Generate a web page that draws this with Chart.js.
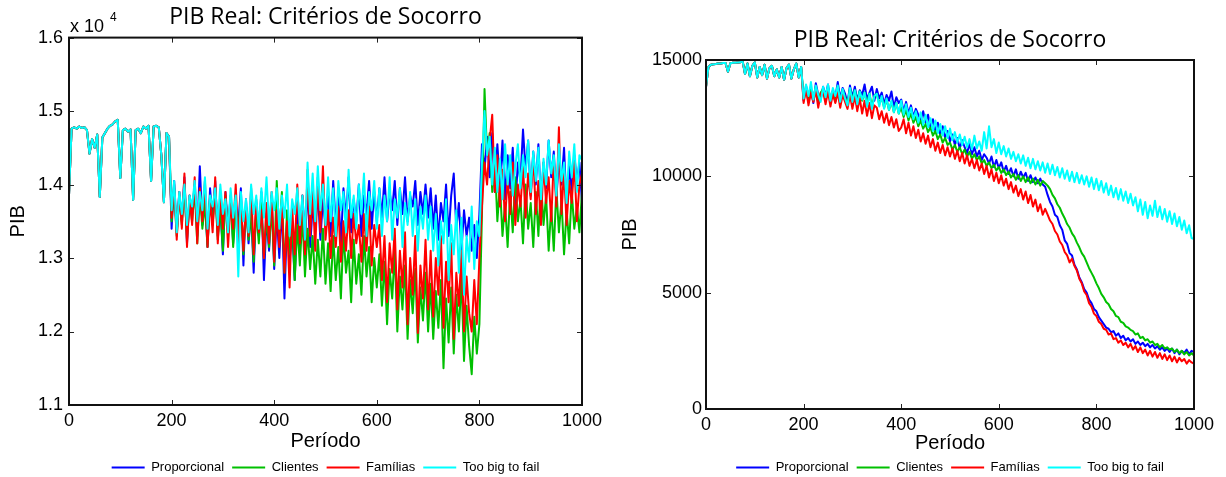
<!DOCTYPE html>
<html lang="pt">
<head>
    <meta charset="UTF-8">
    <title>PIB Real: Critérios de Socorro</title>
    <script src="https://cdn.jsdelivr.net/npm/chart.js"></script>
    <style>
        body {
            margin: 0;
            background: #fff;
            overflow: hidden;
        }
        .panel {
            position: absolute;
            top: 0;
            width: 613px;
            height: 477px;
        }
    </style>
</head>
<body>
    <div class="panel" style="left:0"><canvas id="leftChart" width="613" height="477"></canvas></div>
    <div class="panel" style="left:613px"><canvas id="rightChart" width="613" height="477"></canvas></div>

    <script>
        // Left panel, one value every 5 periods. Periods 0-195 are the same for every rule.
        const leftShared = [
            13850, 14760, 14780, 14760, 14790, 14770, 14780, 14740, 14420, 14620,
            14500, 14680, 13830, 14640, 14700, 14760, 14800, 14820, 14860, 14880,
            14090, 14740, 14760, 14720, 14750, 13790, 14740, 14760, 14700, 14790,
            14760, 14800, 14050, 14790, 14800, 14780, 14400, 13760, 14700, 14650
        ];
        // periods 200-1000
        const leftProporcional = [
            13400, 14050, 13350, 13900, 13500, 14100, 13200, 13850, 13600, 14000,
            13300, 14250, 13450, 13800, 13150, 13950, 13500, 14050, 13300, 13700,
            13050, 13900, 13400, 13850, 13200, 13750, 13450, 13950, 12900, 13800,
            13200, 13650, 12800, 13750, 13300, 13900, 12700, 13550, 13100, 13850,
            12850, 13600, 13000, 13750, 12450, 13500, 12950, 13400, 12700, 13650,
            13100, 13850, 13300, 13950, 13150, 13700, 13400, 13900, 13250, 13800,
            13450, 13900, 13300, 14050, 13450, 13850, 13200, 13950, 13550, 14100,
            13350, 13800, 13500, 14000, 13300, 13850, 13600, 14050, 13400, 13900,
            13500, 13950, 13550, 14100, 13500, 13900, 13650, 14050, 13450, 13950,
            13600, 14100, 13500, 13850, 13700, 14050, 13450, 13900, 13600, 14000,
            13550, 13950, 13400, 13850, 13250, 13750, 13500, 14000, 13300, 13850,
            14150, 13400, 13750, 13100, 13650, 13300, 13550, 13100, 13450, 13000,
            13600, 14550, 14200, 14650, 14100, 14700, 13900, 14550, 14000, 14600,
            13800, 14400, 13950, 14500, 13700, 14300, 14050, 14750, 14200, 14600,
            13850, 14450, 14000, 14550, 13750, 14300, 13950, 14600, 14100, 14450,
            13800, 14350, 14000, 14500, 13700, 14250, 13900, 14400, 14050, 14300,
            13750
        ];
        const leftClientes = [
            13500, 13950, 13300, 13850, 13450, 14000, 13250, 13800, 13500, 13950,
            13200, 13900, 13400, 13750, 13150, 13850, 13450, 13950, 13250, 13700,
            13100, 13850, 13350, 13800, 13150, 13700, 13400, 13800, 13050, 13700,
            13250, 13600, 12950, 13650, 13200, 13750, 13000, 13550, 13150, 13700,
            12900, 14050, 13300, 13900, 12800, 13650, 13050, 13500, 12700, 13450,
            12900, 13600, 12750, 13400, 12850, 13300, 12650, 13250, 12750, 13400,
            12650, 13200, 12550, 13300, 12700, 13150, 12450, 13350, 12800, 13100,
            12400, 13250, 12650, 13050, 12500, 13300, 12750, 13150, 12400, 13000,
            12600, 13050, 12350, 12950, 12100, 12850, 12450, 13100, 12000, 12750,
            12300, 12900, 11900, 12700, 12250, 12850, 11850, 12600, 12150, 12800,
            12000, 12650, 11900, 12550, 12050, 12700, 11500, 12450, 11850, 12600,
            11700, 12500, 12000, 12750, 11600, 12350, 11800, 11420, 12200, 11700,
            12100, 13600, 15300, 14400, 14700, 13900, 14350, 13500, 14000, 13300,
            13750, 13150, 13900, 13350, 14100, 13500, 13800, 13200, 14000, 13400,
            13750, 13150, 13900, 13300, 14050, 13450, 13850, 13100, 13700, 13100,
            13950, 13350, 13800, 13050, 13650, 13200, 13900, 13400, 13700, 13350,
            13900
        ];
        const leftFamilias = [
            13550, 14000, 13250, 13900, 13400, 14150, 13150, 13850, 13450, 14100,
            13200, 13950, 13500, 14050, 13150, 13800, 13350, 14100, 13200, 13850,
            13400, 13900, 13150, 13750, 13400, 14000, 13200, 13850, 13100, 13700,
            13300, 13950, 13050, 13800, 13350, 13650, 13000, 13750, 13200, 13900,
            12950, 13650, 13150, 13800, 12800, 13500, 12600, 13700, 13050, 14000,
            13200, 13850, 13050, 14200, 13300, 13950, 13100, 14100, 13350, 14250,
            13250, 13650, 13000, 13550, 13150, 13700, 12950, 13500, 13100, 13650,
            13000, 13600, 13200, 13450, 12950, 13600, 13100, 13700, 12900, 13450,
            13150, 13450, 12700, 13300, 12400, 13200, 12800, 13400, 12300, 13100,
            12600, 13350, 12100, 13000, 12500, 13300, 11980, 12900, 12450, 13250,
            12300, 13100, 12200, 13000, 12500, 13300, 12050, 12950, 12400, 13200,
            11900, 12800, 12350, 13100, 12000, 12750, 12250, 12000, 12700, 12100,
            13000, 13700, 14300, 14000, 14600, 14950, 13900, 14400, 13700, 14200,
            13500, 14100, 13600, 14300, 13450, 14000, 13700, 14250, 13550, 14150,
            13800, 14400, 13600, 14050, 13450, 14300, 13750, 14100, 13500, 14350,
            13700, 14780, 13600, 14200, 13450, 14050, 13750, 14300, 13500, 14000,
            14150
        ];
        const leftTooBig = [
            13650, 14050, 13350, 13900, 13600, 14000, 13450, 13850, 13700, 14050,
            13500, 13900, 13650, 14100, 13400, 13850, 13700, 13950, 13450, 14000,
            13600, 13800, 13350, 13950, 13550, 13850, 12750, 13900, 13500, 13800,
            13350, 14000, 13600, 13850, 13400, 13950, 13550, 14100, 13450, 13900,
            13650, 13950, 13400, 13850, 13550, 14000, 13300, 13800, 13600, 13950,
            13450, 13850, 13250, 14300, 13600, 14150, 13500, 14250, 13650, 14000,
            13450, 14100, 13500, 13950, 13300, 14050, 13650, 13900, 13350, 14200,
            13550, 13850, 13400, 14000, 13600, 14150, 13300, 13900, 13650, 14050,
            13400, 13950, 13300, 13850, 13500, 14100, 13250, 13800, 13550, 13950,
            13150, 13750, 13450, 13900, 13300, 13800, 13100, 13700, 13400, 13850,
            13250, 13700, 13100, 13600, 12900, 13500, 13200, 13800, 12700, 13450,
            13050, 13650, 12800, 13550, 12500, 13300, 12950, 13700, 12850, 13500,
            13300, 14300, 15000, 14400, 14650, 14000, 14500, 13900, 14350, 13800,
            14550, 14000, 14400, 13850, 14250, 14550, 13950, 14400, 14100, 14600,
            13900, 14450, 14050, 14500, 13800, 14350, 14000, 14600, 14150, 14400,
            13850, 14550, 14050, 14300, 13750, 14450, 14100, 14550, 13900, 14400,
            14330
        ];

        // Right panel, one value every 5 periods. Periods 0-195 are shared.
        const rightShared = [
            13850, 14700, 14800, 14820, 14830, 14850, 14850, 14870, 14870, 14500,
            14860, 14880, 14880, 14890, 14900, 14950, 14400, 14850, 14300, 14750,
            14900, 14250, 14700, 14350, 14800, 14200, 14650, 14750, 14300, 14600,
            14250, 14700, 14150, 14650, 14800, 14200, 14600, 14850, 14250, 14700
        ];
        // periods 200-1000
        const rightProporcional = [
            13250, 13900, 13400, 13750, 13150, 14000, 13500, 13300, 13850, 13450,
            13950, 13200, 13700, 13400, 14050, 13350, 13800, 13550, 13150, 13900,
            13400, 13850, 13250, 13700, 13500, 13950, 13300, 13600, 13850, 13250,
            13750, 13350, 13600, 13100, 13500, 13250, 13650, 12950, 13400, 13150,
            13300, 12800, 13200, 12700, 13050, 12550, 12900, 12650, 12400, 12800,
            12300, 12650, 12100, 12450, 11950, 12300, 11800, 12150, 11650, 11950,
            11500, 11800, 11350, 11650, 11200, 11550, 11250, 11000, 11400, 10950,
            11250, 10850, 11100, 10700, 10950, 10800, 10550, 10850, 10400, 10700,
            10350, 10600, 10200, 10450, 10100, 10350, 10000, 10300, 9900, 10200,
            9950, 10150, 9800, 10050, 9750, 9950, 9700, 9900, 9650, 9550,
            9200, 8900, 8700, 8350, 8250, 7900, 7700, 7250, 7100, 6700,
            6600, 6200, 6000, 5650, 5450, 5150, 5000, 4700, 4550, 4300,
            4200, 3950, 3800, 3650, 3500, 3450, 3300, 3350, 3150, 3250,
            3050, 3150, 2950, 3050, 2900, 3000, 2800, 2900, 2750, 2850,
            2700, 2800, 2650, 2750, 2600, 2700, 2550, 2650, 2500, 2600,
            2450, 2600, 2400, 2550, 2350, 2500, 2400, 2550, 2350, 2500,
            2450
        ];
        const rightClientes = [
            13350, 13800, 13200, 13700, 13300, 13850, 13150, 13600, 13750, 13250,
            13800, 13300, 13650, 13200, 13850, 13250, 13700, 13400, 13100, 13750,
            13300, 13700, 13150, 13650, 13250, 13600, 13100, 13550, 13000, 13450,
            13550, 13100, 13400, 12950, 13300, 12850, 13200, 12750, 13150, 12700,
            12950, 12550, 12850, 12400, 12700, 12300, 12550, 12150, 12400, 12050,
            12250, 11900, 12100, 11750, 11950, 11600, 11800, 11450, 11650, 11350,
            11450, 11150, 11350, 11050, 11250, 10950, 11150, 10850, 11050, 10750,
            10950, 10700, 10850, 10550, 10700, 10450, 10600, 10350, 10500, 10250,
            10400, 10150, 10300, 10050, 10200, 9950, 10100, 9850, 10050, 9800,
            10000, 9750, 9950, 9700, 9900, 9650, 9850, 9600, 9800, 9700,
            9600, 9450, 9200, 9050, 8800, 8650, 8400, 8200, 7950, 7800,
            7550, 7400, 7150, 6950, 6700, 6550, 6300, 6050, 5850, 5650,
            5400, 5200, 4950, 4800, 4600, 4500, 4300, 4200, 4000, 3950,
            3750, 3700, 3550, 3500, 3400, 3350, 3200, 3250, 3050, 3100,
            2950, 3000, 2850, 2900, 2750, 2800, 2650, 2750, 2600, 2650,
            2550, 2600, 2450, 2550, 2400, 2500, 2350, 2450, 2300, 2400,
            2300
        ];
        const rightFamilias = [
            13150, 13750, 13050, 13600, 13200, 13700, 12950, 13550, 13650, 13100,
            13650, 13000, 13550, 13150, 13600, 12950, 13500, 13200, 12900, 13500,
            12900, 13450, 12800, 13350, 12700, 13250, 12600, 13150, 12500, 13050,
            12950, 12450, 12800, 12300, 12700, 12200, 12550, 12100, 12450, 11950,
            12100, 12450, 11850, 12300, 11750, 12150, 11650, 12000, 11500, 11850,
            11400, 11750, 11250, 11600, 11100, 11450, 11000, 11350, 10900, 11250,
            10850, 11200, 10750, 11100, 10650, 11000, 10550, 10900, 10450, 10750,
            10350, 10700, 10250, 10550, 10100, 10450, 9950, 10300, 9800, 10150,
            9700, 10050, 9600, 9900, 9450, 9750, 9300, 9600, 9150, 9450,
            9000, 9350, 8850, 9200, 8700, 9000, 8500, 8800, 8350, 8600,
            8350, 8100, 7950, 7650, 7500, 7200, 7050, 6750, 6600, 6300,
            6450, 6150, 5950, 5600, 5400, 5050, 4900, 4550, 4400, 4100,
            4000, 3750, 3650, 3450, 3400, 3200, 3250, 3000, 3050, 2850,
            2950, 2750, 2850, 2650, 2800, 2550, 2700, 2450, 2650, 2400,
            2550, 2300, 2500, 2250, 2450, 2200, 2400, 2150, 2350, 2100,
            2300, 2050, 2250, 2000, 2200, 2050, 2150, 1950, 2100, 2000,
            1950
        ];
        const rightTooBig = [
            13350, 13950, 13450, 14050, 13300, 13900, 13500, 13200, 13850, 13400,
            13950, 13250, 13800, 13450, 13900, 13200, 13750, 13350, 13050, 13800,
            13200, 13700, 13100, 13650, 13300, 13600, 13000, 13550, 12900, 13450,
            13550, 13000, 13450, 12900, 13350, 12850, 13250, 12750, 13150, 12700,
            13250, 12650, 13100, 12550, 12950, 12450, 12800, 12300, 12750, 12200,
            12650, 12100, 12500, 11950, 12400, 11850, 12250, 11750, 12150, 11650,
            12050, 11550, 11900, 11450, 11800, 11350, 11700, 11250, 11600, 11150,
            11750, 11200, 11500, 11100, 11900, 11200, 12150, 11250, 11600, 11000,
            11450, 10950, 11300, 10850, 11200, 10750, 11050, 10650, 10950, 10550,
            10900, 10450, 10800, 10350, 10750, 10300, 10650, 10250, 10600, 10150,
            10550, 10100, 10500, 10050, 10400, 9950, 10350, 9900, 10250, 9800,
            10200, 9750, 10150, 9700, 10050, 9650, 10000, 9550, 9950, 9450,
            9900, 9400, 9800, 9300, 9700, 9200, 9600, 9100, 9500, 9000,
            9450, 8950, 9350, 8850, 9250, 8750, 9100, 8500, 9000, 8350,
            8900, 8200, 8750, 8300, 8950, 8250, 8700, 8150, 8600, 8050,
            8500, 7950, 8400, 7850, 8250, 7700, 8100, 7550, 7900, 7350,
            7300
        ];

        const seriesNames = ['Proporcional', 'Clientes', 'Famílias', 'Too big to fail'];
        const seriesColors = ['#0000ff', '#00c000', '#ff0000', '#00ffff'];
        const periodTicks = [0, 200, 400, 600, 800, 1000];

        const leftSeries = [leftProporcional, leftClientes, leftFamilias, leftTooBig].map(s => leftShared.concat(s));
        const rightSeries = [rightProporcional, rightClientes, rightFamilias, rightTooBig].map(s => rightShared.concat(s));

        // draws the box round the plot and the inward tick marks on all four sides
        const frameAndTicks = {
            id: 'frameAndTicks',
            afterDatasetsDraw(chart) {
                const {ctx, chartArea: a, scales: {x, y}} = chart;
                ctx.save();
                ctx.strokeStyle = '#222';
                ctx.lineWidth = 1;
                ctx.beginPath();
                x.ticks.forEach(t => {
                    const px = Math.round(x.getPixelForValue(t.value)) + 0.5;
                    ctx.moveTo(px, a.bottom); ctx.lineTo(px, a.bottom - 5);
                    ctx.moveTo(px, a.top); ctx.lineTo(px, a.top + 5);
                });
                y.ticks.forEach(t => {
                    const py = Math.round(y.getPixelForValue(t.value)) + 0.5;
                    ctx.moveTo(a.left, py); ctx.lineTo(a.left + 5, py);
                    ctx.moveTo(a.right, py); ctx.lineTo(a.right - 5, py);
                });
                ctx.stroke();
                ctx.strokeStyle = '#111';
                ctx.lineWidth = 2;
                ctx.strokeRect(a.left, a.top, a.right - a.left, a.bottom - a.top);
                ctx.restore();
            }
        };

        // the "x 10^4" multiplier above the left axis
        const exponentLabel = {
            id: 'exponentLabel',
            afterDraw(chart) {
                const {ctx, chartArea: a} = chart;
                ctx.save();
                ctx.fillStyle = '#000';
                ctx.textBaseline = 'alphabetic';
                ctx.font = '18px "Liberation Sans"';
                ctx.fillText('x 10', a.left + 1, a.top - 6);
                ctx.font = '12px "Liberation Sans"';
                ctx.fillText('4', a.left + 41, a.top - 17);
                ctx.restore();
            }
        };

        function buildChart(canvasId, periods, series, opts) {
            const datasets = series.map((values, i) => ({
                label: seriesNames[i],
                data: values.map((v, k) => ({x: periods[k], y: v})),
                borderColor: seriesColors[i],
                backgroundColor: seriesColors[i],
                borderWidth: 2,
                borderJoinStyle: 'round',
                pointRadius: 0,
                tension: 0,
                order: series.length - 1 - i
            }));

            return new Chart(document.getElementById(canvasId), {
                type: 'line',
                data: {datasets: datasets},
                plugins: opts.plugins,
                options: {
                    responsive: false,
                    animation: false,
                    events: [],
                    layout: {padding: opts.padding},
                    plugins: {
                        title: {
                            display: true,
                            text: 'PIB Real: Critérios de Socorro',
                            fullSize: false,
                            color: '#000',
                            font: {family: 'Open Sans', size: 23, weight: 'normal'},
                            padding: opts.titlePadding
                        },
                        legend: {
                            position: 'bottom',
                            fullSize: false,
                            labels: {
                                boxWidth: 33,
                                boxHeight: 2,
                                padding: 8,
                                color: '#000',
                                font: {family: 'Liberation Sans', size: 13},
                                generateLabels: chart => chart.data.datasets.map((ds, i) => ({
                                    text: ds.label,
                                    fillStyle: ds.borderColor,
                                    strokeStyle: ds.borderColor,
                                    lineWidth: 0,
                                    hidden: false,
                                    datasetIndex: i
                                }))
                            }
                        },
                        tooltip: {enabled: false}
                    },
                    scales: {
                        x: {
                            type: 'linear',
                            min: 0,
                            max: 1000,
                            afterBuildTicks: scale => { scale.ticks = periodTicks.map(v => ({value: v})); },
                            afterFit: scale => { scale.height = opts.xHeight; },
                            grid: {display: false, drawTicks: false},
                            border: {display: false},
                            ticks: {
                                color: '#000',
                                padding: opts.xTickPad,
                                maxRotation: 0,
                                autoSkip: false,
                                font: {family: 'Liberation Sans', size: 18},
                                callback: v => String(v)
                            },
                            title: {
                                display: true,
                                text: 'Período',
                                color: '#000',
                                font: {family: 'Liberation Sans', size: 20},
                                padding: {top: 0, bottom: opts.xTitlePad}
                            }
                        },
                        y: {
                            min: opts.yMin,
                            max: opts.yMax,
                            afterBuildTicks: scale => { scale.ticks = opts.yTicks.map(v => ({value: v})); },
                            afterFit: scale => { scale.width = opts.yWidth; },
                            grid: {display: false, drawTicks: false},
                            border: {display: false},
                            ticks: {
                                color: '#000',
                                padding: opts.yTickPad,
                                autoSkip: false,
                                font: {family: 'Liberation Sans', size: 18},
                                callback: opts.yFormat
                            },
                            title: {
                                display: true,
                                text: 'PIB',
                                color: '#000',
                                font: {family: 'Liberation Sans', size: 20},
                                padding: {top: opts.yTitlePad, bottom: 0}
                            }
                        }
                    }
                }
            });
        }

        const periodsLeft = leftSeries[0].map((_, k) => k * 5);
        const periodsRight = rightSeries[0].map((_, k) => k * 5);

        buildChart('leftChart', periodsLeft, leftSeries, {
            plugins: [frameAndTicks, exponentLabel],
            padding: {top: 0, right: 31, bottom: -7, left: 0},
            titlePadding: {top: 4, bottom: 6},
            xHeight: 48,
            xTickPad: 5,
            xTitlePad: 0,
            yWidth: 69,
            yTickPad: 6,
            yTitlePad: 6,
            yMin: 11000,
            yMax: 16000,
            yTicks: [11000, 12000, 13000, 14000, 15000, 16000],
            yFormat: v => (v / 10000).toFixed(1)
        });

        buildChart('rightChart', periodsRight, rightSeries, {
            plugins: [frameAndTicks],
            padding: {top: 22, right: 32, bottom: -7, left: 0},
            titlePadding: {top: 4.4, bottom: 6},
            xHeight: 44,
            xTickPad: 5,
            xTitlePad: -2.5,
            yWidth: 93,
            yTickPad: 4,
            yTitlePad: 5,
            yMin: 0,
            yMax: 15000,
            yTicks: [0, 5000, 10000, 15000],
            yFormat: v => String(v)
        });
    </script>
</body>
</html>
